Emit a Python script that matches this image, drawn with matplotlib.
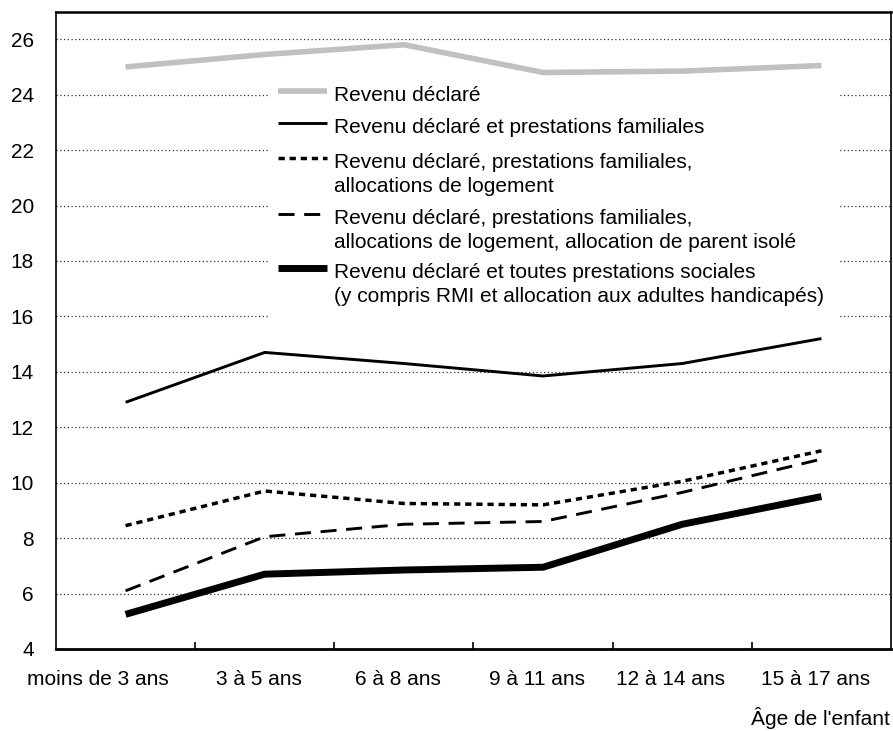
import matplotlib.pyplot as plt
import matplotlib.transforms as mtransforms
from matplotlib.lines import Line2D
from matplotlib.patches import Rectangle

plt.rcParams['font.family'] = ['Liberation Sans', 'DejaVu Sans']

# === données ===
ages = ['moins de 3 ans', '3 à 5 ans', '6 à 8 ans', '9 à 11 ans', '12 à 14 ans', '15 à 17 ans']
revenu_declare = [25.0, 25.45, 25.8, 24.8, 24.85, 25.05]
avec_prest_fam = [12.9, 14.7, 14.3, 13.85, 14.3, 15.2]
avec_logement = [8.45, 9.7, 9.25, 9.2, 10.05, 11.15]
avec_api = [6.1, 8.05, 8.5, 8.6, 9.65, 10.85]
toutes_prest = [5.25, 6.7, 6.85, 6.95, 8.5, 9.5]

noms = [
    ['Revenu déclaré'],
    ['Revenu déclaré et prestations familiales'],
    ['Revenu déclaré, prestations familiales,', 'allocations de logement'],
    ['Revenu déclaré, prestations familiales,',
     'allocations de logement, allocation de parent isolé'],
    ['Revenu déclaré et toutes prestations sociales',
     '(y compris RMI et allocation aux adultes handicapés)'],
]
yticks = [4, 6, 8, 10, 12, 14, 16, 18, 20, 22, 24, 26]

styles = [
    dict(color='#c0c0c0', lw=4.0, ls='-'),
    dict(color='black', lw=2.1, ls='-'),
    dict(color='black', lw=2.5, ls=(0, (1.8, 1.4))),
    dict(color='black', lw=2.1, ls=(0, (5.5, 3.3))),
    dict(color='black', lw=5.0, ls='-'),
]
series = [revenu_declare, avec_prest_fam, avec_logement, avec_api, toutes_prest]

fig = plt.figure(figsize=(8.93, 7.31), dpi=100)
ax = fig.add_axes([56 / 893, 82 / 731, 835 / 893, 637.5 / 731])

x = list(range(len(ages)))
for s, st in zip(series, styles):
    ax.plot(x, s, solid_capstyle='butt', dash_capstyle='butt', zorder=3, **st)

ax.set_xlim(-0.5, len(ages) - 0.5)
ax.set_ylim(4, 27)

# grille pointillée
for v in yticks[1:]:
    ax.axhline(v, color='#333333', lw=0.9, ls=(0, (1, 2)), zorder=1)

ax.set_yticks(yticks)
ax.tick_params(axis='y', length=0, pad=16, labelsize=15)

# graduations entre les catégories, étiquettes au centre
ax.set_xticks([i + 0.5 for i in x[:-1]])
ax.set_xticklabels([])
ax.tick_params(axis='x', which='major', direction='in', length=5, width=1.2)
ax.set_xticks(x, minor=True)
ax.set_xticklabels(ages, minor=True, fontsize=15)
ax.tick_params(axis='x', which='minor', length=0, pad=15)
decal = [-28, -6, -6, -6, -12, -6]
for lab, d in zip(ax.get_xticklabels(minor=True), decal):
    lab.set_transform(lab.get_transform() + mtransforms.ScaledTranslation(d / 100, 0, fig.dpi_scale_trans))

ax.spines['top'].set_linewidth(1.8)
ax.spines['bottom'].set_linewidth(2.0)
ax.spines['left'].set_linewidth(1.2)
ax.spines['right'].set_linewidth(1.2)

# légende dessinée à la main (trait à hauteur de la première ligne)
ax.add_patch(Rectangle((1.02, 15.55), 4.11, 8.95, facecolor='white', edgecolor='none', zorder=2))
y_traits = [24.14, 22.96, 21.71, 19.7, 17.76]
for yt, st, lignes in zip(y_traits, styles, noms):
    ax.add_line(Line2D([1.095, 1.447], [yt, yt], solid_capstyle='butt', dash_capstyle='butt', zorder=4, **st))
    for k, ligne in enumerate(lignes):
        ax.text(1.5, yt - 0.36 - k * 0.865, ligne, fontsize=15, va='baseline', ha='left', zorder=4)

fig.text(0.996, 1 - 718 / 731, "Âge de l'enfant", fontsize=15, ha='right', va='center')

plt.savefig('out.png', dpi=100)
